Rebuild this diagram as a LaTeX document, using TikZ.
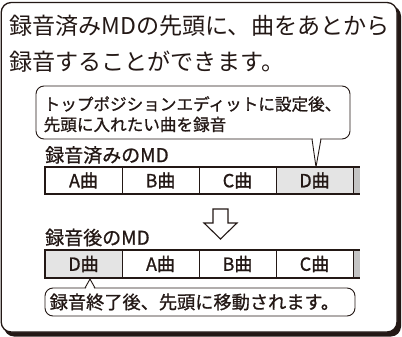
\documentclass[tikz,border=0pt]{standalone}
\usepackage{fontspec}
\setmainfont{Noto Sans CJK JP}
\newfontfamily\jpmed{Noto Sans CJK JP}[FakeBold=0.9]
\definecolor{ink}{HTML}{231815}
\definecolor{cellgrey}{HTML}{E4E4E4}
\definecolor{endgrey}{HTML}{C4C4C4}
\begin{document}
\begin{tikzpicture}[x=1pt,y=-1pt,
  titletext/.style={anchor=west, inner sep=0pt, text=ink, font=\fontsize{23.1}{23.1}\selectfont},
  calltext/.style={anchor=west, inner sep=0pt, text=ink, font=\jpmed\fontsize{16.6}{16.6}\selectfont},
  labeltext/.style={anchor=west, inner sep=0pt, text=ink, font=\jpmed\fontsize{19}{19}\selectfont},
  cell/.style={draw=ink, line width=0.9pt, minimum width=77pt, minimum height=27pt, inner sep=0pt, text=ink, font=\jpmed\fontsize{18}{18}\selectfont},
  hilite/.style={cell, fill=cellgrey},
  barline/.style={draw=ink, line width=1.9pt},
  callout/.style={draw=ink, line width=0.9pt, rounded corners=8pt, fill=white},
]
\useasboundingbox (0,0) rectangle (402,337);
% outer frame with shadow
\fill[ink, rounded corners=10pt] (4,6) rectangle (401,336.5);
\draw[ink, fill=white, line width=1.3pt, rounded corners=10pt] (1.2,2.5) rectangle (397,332);

% title
\node[titletext] (t1) at (9,26) {録音済みMDの先頭に、曲をあとから};
\node[titletext] (t2) at (9,62) {録音することができます。};

% top callout
\draw[callout] (36,86) rectangle (350,139);
\fill[white] (312.7,137.8) -- (316,165) -- (320.3,137.8) -- cycle;
\coordinate (tip1) at (316,167);
\draw[ink, line width=0.9pt, line join=miter] (312,139) -- (tip1) -- (321,139);
\node[calltext] (c1a) at (43.5,104) {トップポジションエディットに設定後、};
\node[calltext] (c1b) at (43.5,124.5) {先頭に入れたい曲を録音};

% recorded MD
\node[labeltext] (l1) at (45,155) {録音済みのMD};
\fill[endgrey] (353,167) rectangle (360,194);
\node[cell] (a1) at (83.5,180.5) {A曲};
\node[cell] (b1) at (160.5,180.5) {B曲};
\node[cell] (cc1) at (237.5,180.5) {C曲};
\node[hilite] (d1) at (314.5,180.5) {D曲};
\draw[barline] (45,167) -- (360,167);
\draw[barline] (45,194) -- (360,194);
\draw[barline] (45,166.05) -- (45,194.95);

% arrow
\draw[ink, line width=1.1pt, fill=white, line join=miter] (213,209) -- (228,209) -- (228,223) -- (237,223) -- (220.5,239) -- (204,223) -- (213,223) -- cycle;

% after MD
\node[labeltext] (l2) at (45,237.5) {録音後のMD};
\fill[endgrey] (353,250) rectangle (360,278);
\node[hilite, minimum height=28pt] (d2) at (83.5,264) {D曲};
\node[cell, minimum height=28pt] (a2) at (160.5,264) {A曲};
\node[cell, minimum height=28pt] (b2) at (237.5,264) {B曲};
\node[cell, minimum height=28pt] (cc2) at (314.5,264) {C曲};
\draw[barline] (45,250) -- (360,250);
\draw[barline] (45,278) -- (360,278);
\draw[barline] (45,249.05) -- (45,278.95);

% bottom callout
\draw[callout] (45,288) rectangle (355,316);
\fill[white] (85.8,289.2) -- (90,280) -- (94.2,289.2) -- cycle;
\coordinate (tip2) at (90,279);
\draw[ink, line width=0.9pt, line join=miter] (85,288) -- (tip2) -- (95,288);
\node[calltext, font=\jpmed\fontsize{18.2}{18.2}\selectfont] (c2) at (49.5,302) {録音終了後、先頭に移動されます。};
\end{tikzpicture}
\end{document}
